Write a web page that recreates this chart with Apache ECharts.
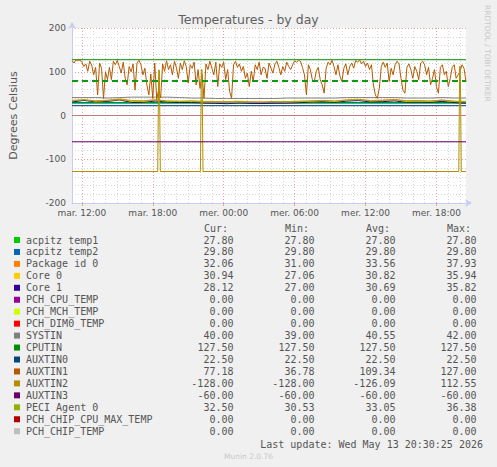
<!DOCTYPE html>
<html>
<head>
<meta charset="utf-8">
<title>Temperatures - by day</title>
<script src="https://cdn.jsdelivr.net/npm/echarts@6/dist/echarts.min.js"></script>
<style>
html, body { margin: 0; padding: 0; background: #f0f0f0; }
#chart { width: 497px; height: 467px; }
</style>
</head>
<body>
<div id="chart"></div>
<script>
// x axis is in hours counted from Tuesday 00:00
var tStart = 11.1667;
var tEnd = 44.5;
var tickHours = [12, 18, 24, 30, 36, 42];
var tickLabels = ['mar. 12:00', 'mar. 18:00', 'mer. 00:00', 'mer. 06:00', 'mer. 12:00', 'mer. 18:00'];

var seriesNames = ['acpitz temp1', 'acpitz temp2', 'Package id 0', 'Core 0', 'Core 1',
  'PCH_CPU_TEMP', 'PCH_MCH_TEMP', 'PCH_DIM0_TEMP', 'SYSTIN', 'CPUTIN', 'AUXTIN0',
  'AUXTIN1', 'AUXTIN2', 'AUXTIN3', 'PECI Agent 0', 'PCH_CHIP_CPU_MAX_TEMP', 'PCH_CHIP_TEMP'];
var seriesColors = ['#00cc00', '#0066b3', '#ff8000', '#ffcc00', '#330099',
  '#990099', '#ccff00', '#ff0000', '#808080', '#008f00', '#00487d',
  '#b35a00', '#b38f00', '#6b006b', '#8fb300', '#b30000', '#bebebe'];

// Cur / Min / Avg / Max table
var curVals = [27.80, 29.80, 32.06, 30.94, 28.12, 0, 0, 0, 40.00, 127.50, 22.50, 77.18, -128.00, -60.00, 32.50, 0, 0];
var minVals = [27.80, 29.80, 31.00, 27.06, 27.00, 0, 0, 0, 39.00, 127.50, 22.50, 36.78, -128.00, -60.00, 30.53, 0, 0];
var avgVals = [27.80, 29.80, 33.56, 30.82, 30.69, 0, 0, 0, 40.55, 127.50, 22.50, 109.34, -126.09, -60.00, 33.05, 0, 0];
var maxVals = [27.80, 29.80, 37.93, 35.94, 35.82, 0, 0, 0, 42.00, 127.50, 22.50, 127.00, 112.55, -60.00, 36.38, 0, 0];

// flat series (start, end)
var acpitzTemp1 = [27.8, 27.8];
var acpitzTemp2 = [29.8, 29.8];
var pchCpuTemp = [0, 0];
var pchMchTemp = [0, 0];
var pchDim0Temp = [0, 0];
var cputin = [127.5, 127.5];
var auxtin0 = [22.5, 22.5];
var auxtin3 = [-60, -60];
var pchChipCpuMax = [0, 0];
var pchChipTemp = [0, 0];

// roughly hourly readings
var packageId0 = [34.5, 36.2, 33.8, 35.1, 37.9, 34.2, 33.6, 36.4, 33.1, 32.8, 33.5, 32.4, 32.1, 31.8, 32.6, 31.4, 31.0,
  32.3, 31.9, 32.7, 33.2, 34.6, 33.0, 35.8, 37.1, 34.4, 35.2, 36.8, 33.9, 34.1, 33.2, 35.6, 32.9, 32.06];
var core0 = [31.2, 35.9, 30.4, 32.8, 34.7, 30.1, 29.6, 33.9, 30.8, 29.4, 30.2, 29.1, 28.6, 28.3, 29.7, 27.6, 27.1,
  28.4, 28.9, 29.5, 30.3, 32.1, 30.2, 33.4, 35.1, 31.5, 32.4, 34.3, 30.6, 31.2, 30.5, 33.1, 29.8, 30.94];
var core1 = [30.8, 34.6, 30.9, 32.2, 35.8, 29.7, 30.1, 33.2, 30.3, 29.6, 29.9, 28.4, 27.8, 27.0, 28.6, 27.3, 27.4,
  27.9, 28.2, 29.1, 30.6, 31.4, 29.8, 32.9, 34.2, 30.9, 31.6, 33.5, 30.1, 30.4, 29.9, 32.2, 29.5, 28.12];
var peciAgent0 = [33.5, 35.8, 32.4, 34.1, 36.4, 32.6, 32.2, 35.3, 32.8, 31.9, 32.5, 31.6, 31.2, 30.8, 31.7, 30.6, 30.5,
  31.5, 31.4, 32.2, 32.9, 34.1, 32.6, 35.0, 36.2, 33.4, 34.2, 35.9, 32.7, 33.3, 32.6, 34.8, 31.9, 32.5];
var systin = [41, 41, 41, 40, 41, 42, 42, 42, 42, 41, 40, 40, 39, 39, 39, 39, 39,
  39, 40, 40, 40, 40, 40, 41, 41, 41, 41, 41, 40, 40, 40, 41, 40, 40];

// AUXTIN1, one reading every 10 minutes across the whole span
var auxtin1 = [
  125, 120, 127, 126, 127, 122, 112, 118, 101, 124, 115, 93, 110, 47, 120, 108, 39, 100, 82, 110,
  82, 124, 116, 126, 112, 97, 122, 85, 70, 112, 100, 118, 58, 120, 126, 116, 93, 108, 70, 47,
  95, 39, 120, 37, 60, 40, 118, 101, 125, 105, 116, 93, 124, 110, 85, 120, 105, 125, 112, 74,
  116, 108, 122, 70, 105, 62, 95, 39, 118, 105, 124, 108, 93, 122, 66, 118, 110, 122, 82, 105,
  55, 39, 116, 124, 110, 118, 101, 112, 85, 97, 66, 101, 78, 116, 105, 122, 93, 110, 108, 85,
  120, 108, 97, 118, 124, 110, 93, 112, 101, 122, 112, 105, 116, 125, 122, 126, 124, 110, 93, 47,
  116, 105, 82, 78, 101, 110, 82, 70, 51, 108, 122, 116, 126, 112, 93, 116, 90, 78, 108, 118,
  93, 112, 120, 108, 126, 122, 127, 118, 124, 112, 120, 105, 116, 70, 47, 39, 62, 112, 122, 110,
  120, 78, 108, 93, 116, 124, 118, 85, 58, 51, 110, 118, 105, 85, 112, 101, 82, 120, 124, 116,
  93, 110, 70, 85, 105, 66, 51, 110, 116, 93, 101, 66, 85, 110, 116, 85, 93, 101, 116, 108,
  77.18];

// AUXTIN2 sits at -128 with three short jumps
var auxtin2Times = [tStart, 18.42, 18.5, 18.56, 18.64, 22.03, 22.11, 22.17, 22.25, 43.89, 43.96, 44.02, 44.1, tEnd];
var auxtin2Vals = [-128, -128, 104, 104, -128, -128, 105, 105, -128, -128, 112.55, 112.55, -128, -128];

var warnLevel = 80;

function spread(vals) {
  var n = vals.length;
  return vals.map(function (v, i) { return [tStart + i * (tEnd - tStart) / (n - 1), v]; });
}
function pairs(ts, vs) {
  return ts.map(function (t, i) { return [t, vs[i]]; });
}

var seriesData = [
  spread(acpitzTemp1), spread(acpitzTemp2), spread(packageId0), spread(core0), spread(core1),
  spread(pchCpuTemp), spread(pchMchTemp), spread(pchDim0Temp), spread(systin), spread(cputin), spread(auxtin0),
  spread(auxtin1), pairs(auxtin2Times, auxtin2Vals), spread(auxtin3), spread(peciAgent0),
  spread(pchChipCpuMax), spread(pchChipTemp)
];

var majorGrid = '#e6a3a3';
var minorGrid = '#d6d6d6';

// vertical grid lines (every hour, red at the labelled ones)
var vLines = [];
for (var h = 12; h <= 44; h++) {
  vLines.push({
    xAxis: h,
    lineStyle: { color: tickHours.indexOf(h) >= 0 ? majorGrid : minorGrid, type: [1, 2], width: 1 }
  });
}

var series = [{
  name: 'vgrid', type: 'line', data: [], silent: true,
  markLine: { silent: true, symbol: 'none', label: { show: false }, z: 1, animation: false, data: vLines }
}];
seriesNames.forEach(function (name, i) {
  series.push({
    name: name,
    type: 'line',
    data: seriesData[i],
    showSymbol: false,
    symbol: 'none',
    z: 2,
    lineStyle: { color: seriesColors[i], width: 1, opacity: curVals[i] === 0 && maxVals[i] === 0 ? 0.6 : 1 },
    itemStyle: { color: seriesColors[i] }
  });
});
series.push({
  name: 'warning', type: 'line', data: [], silent: true,
  markLine: {
    silent: true, symbol: 'none', label: { show: false }, z: 6, animation: false,
    data: [{ yAxis: warnLevel }],
    lineStyle: { color: '#119911', type: [6, 4], width: 2 }
  }
});

// legend table
var mono = '10px "DejaVu Sans Mono", monospace';
var textCol = '#555555';
var graphic = [];
var rowY0 = 240, rowStep = 11.95;
var colRight = [233.5, 314.5, 395.5, 476.5];
var headers = ['Cur:', 'Min:', 'Avg:', 'Max:'];
var headerX = [204, 285, 366, 447];
headers.forEach(function (hd, j) {
  graphic.push({ type: 'text', x: headerX[j], y: 228.5,
    style: { text: hd, font: mono, fill: textCol, align: 'left', verticalAlign: 'middle' } });
});
var cols = [curVals, minVals, avgVals, maxVals];
seriesNames.forEach(function (name, i) {
  var y = rowY0 + i * rowStep;
  graphic.push({ type: 'rect', shape: { x: 14, y: y - 3, width: 6, height: 6 }, style: { fill: seriesColors[i] } });
  graphic.push({ type: 'text', x: 26, y: y,
    style: { text: name, font: mono, fill: textCol, align: 'left', verticalAlign: 'middle' } });
  cols.forEach(function (col, j) {
    graphic.push({ type: 'text', x: colRight[j], y: y,
      style: { text: col[i].toFixed(2), font: mono, fill: textCol, align: 'right', verticalAlign: 'middle' } });
  });
});
graphic.push({ type: 'text', x: 483, y: 444,
  style: { text: 'Last update: Wed May 13 20:30:25 2026', font: mono, fill: textCol, align: 'right', verticalAlign: 'middle' } });
graphic.push({ type: 'text', x: 248.5, y: 456.5,
  style: { text: 'Munin 2.0.76', font: '7.5px "DejaVu Sans"', fill: '#c8c8c8', align: 'center', verticalAlign: 'middle' } });
graphic.push({ type: 'text', x: 487.5, y: 5, rotation: -Math.PI / 2,
  style: { text: 'RRDTOOL / TOBI OETIKER', font: '7.5px "DejaVu Sans"', fill: '#c8c8c8', align: 'left', verticalAlign: 'middle' } });
graphic.push({ type: 'text', x: 248.5, y: 19.5,
  style: { text: 'Temperatures - by day', font: '12.5px "DejaVu Sans"', fill: '#606060', align: 'center', verticalAlign: 'middle' } });

var chart = echarts.init(document.getElementById('chart'), null, { renderer: 'svg' });
chart.setOption({
  animation: false,
  backgroundColor: '#f0f0f0',
  textStyle: { fontFamily: 'DejaVu Sans' },
  grid: { left: 66, right: 31, top: 28, bottom: 264, show: true, backgroundColor: '#ffffff', borderWidth: 0 },
  xAxis: {
    type: 'value', min: tStart, max: tEnd,
    axisLine: { show: true, onZero: false, lineStyle: { color: '#c8ccf2' }, symbol: ['none', 'arrow'], symbolSize: [6, 7], symbolOffset: [0, 6] },
    axisTick: { show: true, customValues: tickHours, length: 3, lineStyle: { color: majorGrid } },
    axisLabel: {
      customValues: tickHours, color: '#555555', fontSize: 9, margin: 5, fontFamily: 'DejaVu Sans',
      formatter: function (v) { var k = tickHours.indexOf(Math.round(v)); return k >= 0 ? tickLabels[k] : ''; }
    },
    splitLine: { show: false }
  },
  yAxis: {
    type: 'value', min: -200, max: 200, interval: 100,
    name: 'Degrees Celsius', nameLocation: 'middle', nameGap: 53,
    nameTextStyle: { color: '#555555', fontSize: 11, fontFamily: 'DejaVu Sans' },
    axisLine: { show: true, lineStyle: { color: '#c8ccf2' }, symbol: ['none', 'arrow'], symbolSize: [6, 7], symbolOffset: [0, 6] },
    axisTick: { show: false },
    axisLabel: { color: '#555555', fontSize: 9, margin: 6, fontFamily: 'DejaVu Sans' },
    splitLine: { show: true, lineStyle: { color: majorGrid, type: [1, 2] } },
    minorTick: { show: false, splitNumber: 5 },
    minorSplitLine: { show: true, lineStyle: { color: minorGrid, type: [1, 2] } }
  },
  series: series,
  graphic: graphic
});
</script>
</body>
</html>
